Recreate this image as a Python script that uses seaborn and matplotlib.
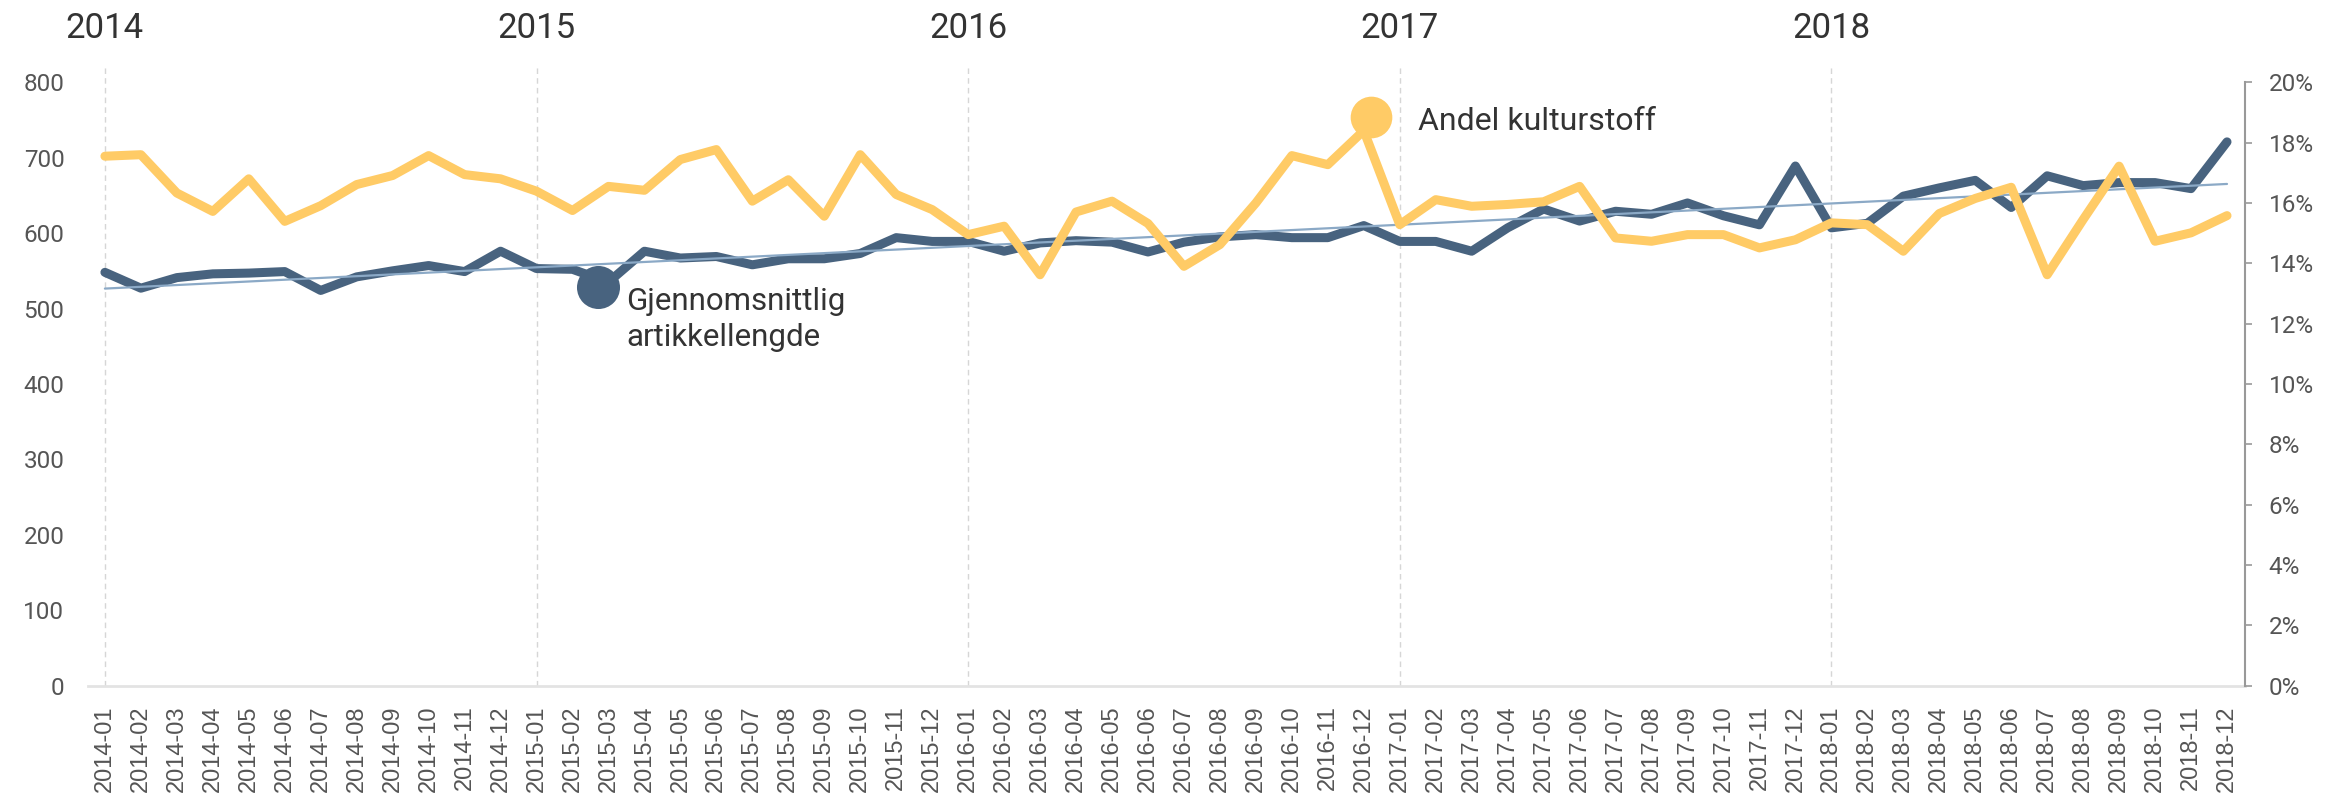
import numpy as np
import matplotlib
matplotlib.use("Agg")
import matplotlib.pyplot as plt
import matplotlib.transforms as mtransforms
import seaborn as sns

# Monthly data 2014-01 .. 2018-12
months = [f"{y}-{m:02d}" for y in range(2014, 2019) for m in range(1, 13)]
years = ["2014", "2015", "2016", "2017", "2018"]

# average article length (left axis)
avg_length = [548, 527, 541, 546, 547, 549, 524, 542, 550, 557, 549, 576,
              553, 552, 535, 576, 567, 569, 558, 566, 566, 573, 594, 589,
              589, 576, 587, 590, 588, 575, 588, 595, 598, 594, 594, 610,
              589, 589, 576, 607, 632, 616, 629, 625, 640, 623, 611, 689,
              607, 613, 649, 660, 670, 634, 676, 663, 667, 667, 659, 721]

# share of culture content in % (right axis)
culture_share = [17.55, 17.6, 16.33, 15.72, 16.8, 15.39, 15.91, 16.61, 16.91, 17.57, 16.94, 16.8,
                 16.39, 15.75, 16.55, 16.42, 17.44, 17.77, 16.06, 16.77, 15.56, 17.6, 16.28, 15.78,
                 14.95, 15.23, 13.62, 15.7, 16.06, 15.32, 13.9, 14.62, 16.0, 17.57, 17.27, 18.4,
                 15.28, 16.11, 15.89, 15.95, 16.04, 16.55, 14.84, 14.73, 14.95, 14.95, 14.51, 14.78,
                 15.34, 15.28, 14.4, 15.65, 16.15, 16.52, 13.62, 15.45, 17.22, 14.73, 15.01, 15.58]

BLUE = "#48637f"
YELLOW = "#ffcb66"
TREND = "#8ba9c6"
TEXT = "#333333"
TICK = "#555555"

sns.set_theme(style="white")
plt.rcParams["font.family"] = ["Roboto", "DejaVu Sans"]

W, H = 2346, 800
fig = plt.figure(figsize=(W / 100, H / 100), dpi=100)
ax = fig.add_axes([88 / W, 1 - 685.6 / H, (2245 - 88) / W, (685.6 - 82.3) / H])
ax2 = ax.twinx()

x = np.arange(len(months))

# year separators
year_idx = [months.index(f"{y}-01") for y in years]
for idx in year_idx:
    ax.axvline(idx, ymin=0, ymax=1.03, color="#d6d6d6", lw=1, ls=(0, (4, 3)),
               clip_on=False, zorder=0)

sns.lineplot(x=x, y=avg_length, ax=ax, color=BLUE, lw=6.5, zorder=3,
             solid_capstyle="round", solid_joinstyle="round")
sns.regplot(x=x, y=avg_length, ax=ax, scatter=False, ci=None,
            line_kws=dict(color=TREND, lw=1.6, zorder=4))
sns.lineplot(x=x, y=culture_share, ax=ax2, color=YELLOW, lw=6.5, zorder=3,
             solid_capstyle="round", solid_joinstyle="round")

ax.set_xlim(-0.47, 59.5)
ax.set_ylim(0, 800)
ax2.set_ylim(0, 20)
ax.set_xlabel("")
ax.set_ylabel("")
ax2.set_ylabel("")

ax.set_yticks(range(0, 801, 100))
ax2.set_yticks(range(0, 21, 2))
ax2.set_yticklabels([f"{v}%" for v in range(0, 21, 2)])
ax.set_xticks(x)
ax.set_xticklabels(months, rotation=90, family="Liberation Sans", fontsize=17, color=TICK)

ax.tick_params(axis="y", length=0, pad=17, labelsize=17.5, labelcolor=TICK)
ax.tick_params(axis="x", length=0, pad=14)
ax2.tick_params(axis="y", length=5, width=1.2, color="#999999", pad=12,
                labelsize=17.5, labelcolor=TICK)

for s in ["left", "top", "right"]:
    ax.spines[s].set_visible(False)
ax.spines["bottom"].set_color("#e3e3e3")
ax.spines["bottom"].set_linewidth(2)
for s in ["left", "top", "bottom"]:
    ax2.spines[s].set_visible(False)
ax2.spines["right"].set_color("#999999")
ax2.spines["right"].set_linewidth(1.5)

# year labels on top
trans = mtransforms.blended_transform_factory(ax.transData, fig.transFigure)
for idx, yr in zip(year_idx, years):
    ax.text(idx, 0.964, yr, transform=trans, ha="center", va="center",
            fontsize=25, color=TEXT)

# series labels
ax.scatter([13.7], [529], s=960, color=BLUE, zorder=5, linewidths=0)
ax.text(14.5, 528, "Gjennomsnittlig\nartikkellengde", fontsize=22.5, color=TEXT,
        va="top", ha="left", linespacing=1.3)
ax2.scatter([35.2], [18.85], s=900, color=YELLOW, zorder=5, linewidths=0)
ax2.text(36.5, 18.7, "Andel kulturstoff", fontsize=23, color=TEXT,
         va="center", ha="left")

fig.savefig("out.png", dpi=100, facecolor="white")
